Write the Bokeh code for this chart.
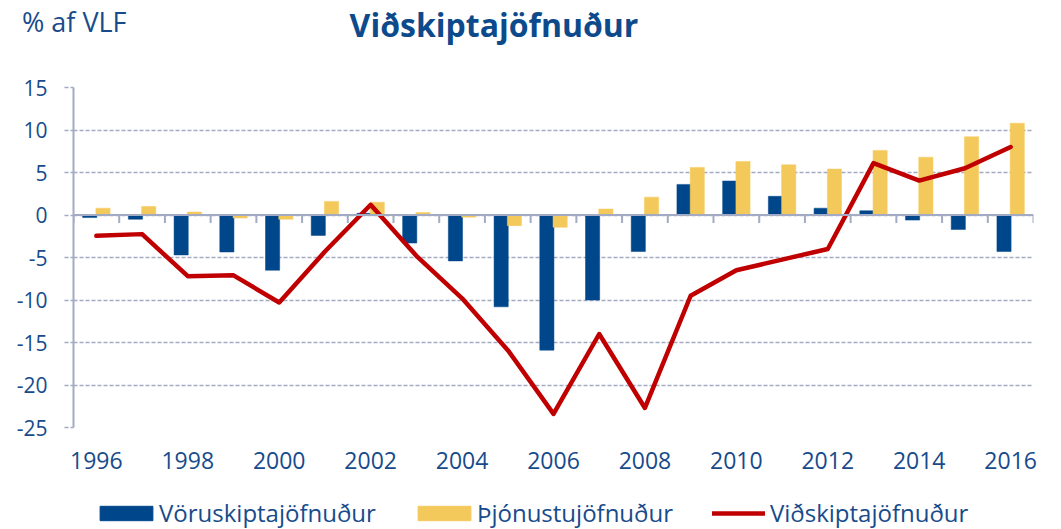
from bokeh.plotting import figure
from bokeh.layouts import column
from bokeh.models import (Range1d, FixedTicker, Span, Legend, LegendItem, Div,
                          ColumnDataSource)
from bokeh.transform import dodge
from bokeh.embed import file_html
from bokeh.resources import INLINE

# ---- data ----
years = list(range(1996, 2017))
voruskipta = [-0.3, -0.5, -4.7, -4.35, -6.5, -2.4, 0.2, -3.3, -5.4, -10.8, -15.9,
              -10.0, -4.3, 3.6, 4.0, 2.2, 0.8, 0.5, -0.6, -1.7, -4.3]
thjonustu = [0.8, 1.0, 0.35, -0.35, -0.5, 1.6, 1.5, 0.3, -0.25, -1.25, -1.45,
             0.7, 2.1, 5.6, 6.3, 5.9, 5.4, 7.6, 6.8, 9.2, 10.8]
vidskipta = [-2.45, -2.25, -7.2, -7.1, -10.3, -4.3, 1.2, -4.8, -9.8, -15.9, -23.4,
             -14.0, -22.7, -9.5, -6.5, -5.25, -4.0, 6.1, 4.05, 5.5, 8.0]
y_ticks = [-25, -20, -15, -10, -5, 0, 5, 10, 15]
series_names = ["Vöruskiptajöfnuður", "Þjónustujöfnuður", "Viðskiptajöfnuður"]
title_text = "Viðskiptajöfnuður"
unit_text = "% af VLF"

BLUE = "#00468b"
YELLOW = "#f4c95b"
RED = "#c00000"
TEXT = "#174b8b"
TITLE = "#0c4a8c"
AXIS = "#a3aac3"
FONT = "Open Sans"
W = 1061
FRAME_LEFT = 73   # frames of stacked figures are aligned to the main chart's frame

# ---- header (HTML text) ----
head = Div(
    width=W, height=50, margin=0,
    text=(
        f'<div style="position:relative;width:{W}px;height:50px;font-family:\'{FONT}\';">'
        f'<span style="position:absolute;left:22px;top:8px;font-size:27px;line-height:27px;'
        f'color:{TEXT};white-space:nowrap;">{unit_text}</span>'
        f'<span style="position:absolute;left:0px;width:988px;top:9px;text-align:center;'
        f'font-size:32px;line-height:32px;font-weight:bold;color:{TITLE};'
        f'white-space:nowrap;">{title_text}</span></div>'
    ),
)

# ---- main chart ----
idx = list(range(len(years)))
src = ColumnDataSource(dict(x=idx, voru=voruskipta, thjon=thjonustu, vid=vidskipta))

p = figure(width=W, height=435, output_backend="svg", toolbar_location=None,
           x_range=Range1d(-0.5, len(years) - 0.5), y_range=Range1d(y_ticks[0], y_ticks[-1]),
           min_border_left=FRAME_LEFT, min_border_right=28, min_border_top=37,
           min_border_bottom=58)
p.outline_line_color = None

p.xgrid.visible = False
p.ygrid.ticker = FixedTicker(ticks=y_ticks)
p.ygrid.grid_line_color = AXIS
p.ygrid.grid_line_dash = "4 2"
p.ygrid.grid_line_width = 1.3

p.yaxis.ticker = FixedTicker(ticks=y_ticks)
p.yaxis.major_label_overrides = {t: str(t) for t in y_ticks}
p.yaxis.axis_line_color = AXIS
p.yaxis.axis_line_width = 2
p.yaxis.major_tick_out = 9
p.yaxis.major_tick_in = 0
p.yaxis.major_tick_line_color = AXIS
p.yaxis.major_tick_line_dash = "4 2"
p.yaxis.major_tick_line_width = 1.3
p.yaxis.minor_tick_line_color = None
p.yaxis.major_label_standoff = 17
p.yaxis.major_label_text_font = FONT
p.yaxis.major_label_text_font_size = "21px"
p.yaxis.major_label_text_color = TEXT

p.xaxis.ticker = FixedTicker(ticks=idx[::2])
p.xaxis.major_label_overrides = {i: str(years[i]) for i in idx[::2]}
p.xaxis.axis_line_color = None
p.xaxis.major_tick_line_color = None
p.xaxis.minor_tick_line_color = None
p.xaxis.major_label_standoff = 18
p.xaxis.major_label_text_font = FONT
p.xaxis.major_label_text_font_size = "23px"
p.xaxis.major_label_text_color = TEXT

p.vbar(x=dodge('x', -0.145, range=p.x_range), top='voru', bottom=0, width=0.31,
       source=src, fill_color=BLUE, line_color=BLUE, line_width=0.5)
p.vbar(x=dodge('x', 0.145, range=p.x_range), top='thjon', bottom=0, width=0.31,
       source=src, fill_color=YELLOW, line_color=YELLOW, line_width=0.5)

p.add_layout(Span(location=0, dimension="width", line_color=AXIS, line_width=2))
bounds = [i - 0.5 for i in range(len(years) + 1)]
p.segment(x0=bounds, y0=[0] * len(bounds), x1=bounds, y1=[-0.95] * len(bounds),
          line_color=AXIS, line_width=2)

p.line('x', 'vid', source=src, line_color=RED, line_width=4.5,
       line_join="round", line_cap="round")

# ---- footer legend (proxy renderers kept outside the visible range) ----
foot = figure(width=W, height=44, output_backend="svg", toolbar_location=None,
              x_axis_type=None, y_axis_type=None, min_border=0,
              min_border_left=FRAME_LEFT, min_border_right=28,
              x_range=Range1d(0, 1), y_range=Range1d(0, 1))
foot.outline_line_color = None
foot.grid.visible = False
rb = foot.vbar(x=[-5], top=[-5], bottom=[-6], width=0.3, fill_color=BLUE, line_color=BLUE)
ry = foot.vbar(x=[-5], top=[-5], bottom=[-6], width=0.3, fill_color=YELLOW, line_color=YELLOW)
rl = foot.line(x=[-6, -5], y=[-5, -5], line_color=RED, line_width=4.5, line_cap="round")
leg_cfg = [(rb, 100 - 7 - FRAME_LEFT, 66, 0), (ry, 418 - 7 - FRAME_LEFT, 66, 0),
           (rl, 712 - FRAME_LEFT, 53, 5)]
for name, (r, lx, gw, st) in zip(series_names, leg_cfg):
    leg = Legend(items=[LegendItem(label=name, renderers=[r], index=0)], location=(lx, 0),
                 orientation="horizontal", border_line_color=None,
                 background_fill_alpha=0, padding=0, margin=0,
                 glyph_width=gw, glyph_height=18, label_standoff=st,
                 label_text_font=FONT, label_text_font_size="24px",
                 label_text_color=TEXT)
    foot.add_layout(leg)

page = column(head, p, foot, spacing=0)
open("out.html", "w").write(file_html(page, INLINE))
